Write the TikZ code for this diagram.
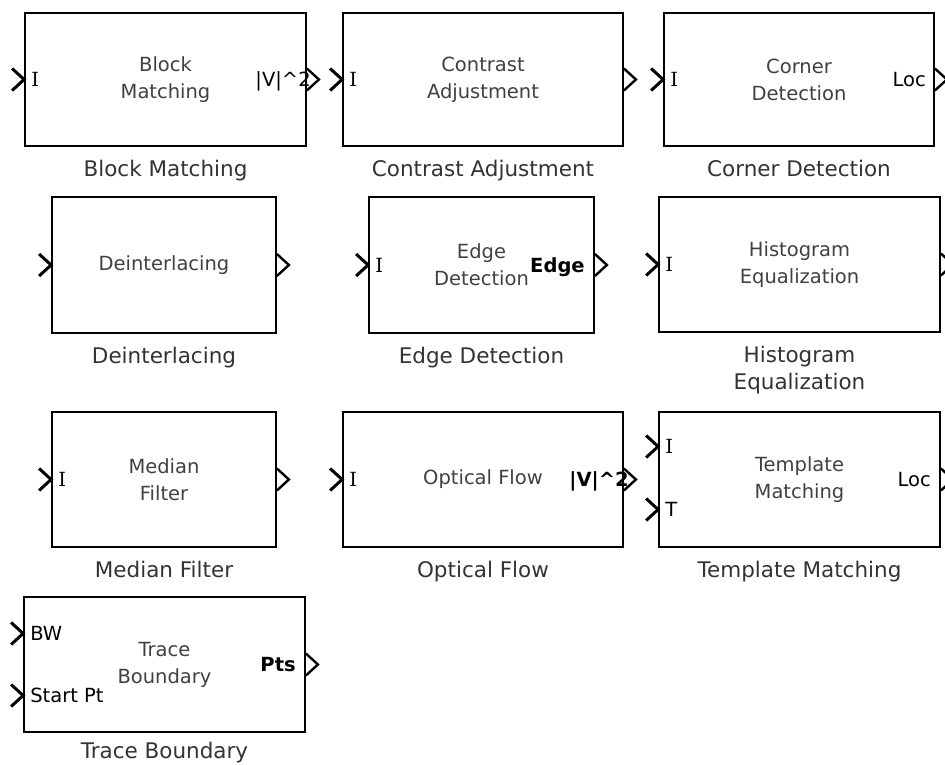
\documentclass[tikz,border=0pt]{standalone}
\usepackage{fontspec}
\setmainfont{DejaVu Sans}
\newfontfamily\serifI{DejaVu Serif}
\usetikzlibrary{calc,positioning}
\tikzset{
  block/.style={draw,line width=1.8pt,align=center,inner sep=0pt,
    font=\fontsize{19.5}{27}\selectfont,text=black!75},
  blockLabel/.style={anchor=north,align=center,inner sep=0pt,
    font=\fontsize{21.5}{27}\selectfont,text=black!80},
  portLabel/.style={inner sep=0pt,text height=14pt,text depth=0pt,
    font=\fontsize{19.5}{23}\selectfont},
  inPort/.pic={\draw[line width=3pt] (-12,-11) -- (0,0) -- (-12,11);},
  outPort/.pic={\draw[line width=2.4pt] (0,-11) -- (12,0) -- (0,11);},
}
\newcommand{\portI}{{\serifI I}}
\newcommand{\vsq}{|V|\textasciicircum 2}

\begin{document}
\begin{tikzpicture}[x=1pt,y=-1pt]
\useasboundingbox (0,0) rectangle (945,765);

% ===== Row 1 =====
\node[block,minimum width=281,minimum height=133] (blockMatch) at (165.5,79.5) {Block\\Matching};
\node[block,minimum width=280,minimum height=133] (contrastAdj) at (483,79.5) {Contrast\\Adjustment};
\node[block,minimum width=270,minimum height=133] (cornerDet) at (799,79.5) {Corner\\Detection};

% ===== Row 2 =====
\node[block,minimum width=224,minimum height=136] (deinterlace) at (164,265) {Deinterlacing};
\node[block,minimum width=225,minimum height=136] (edgeDet) at (481.5,265) {Edge\\Detection};
\node[block,minimum width=281,minimum height=135] (histEq) at (799.5,264.5) {Histogram\\Equalization};

% ===== Row 3 =====
\node[block,minimum width=224,minimum height=135] (medianFilt) at (164,479.5) {Median\\Filter};
\node[block,minimum width=280,minimum height=135] (opticalFlow) at (483,479.5) {Optical Flow};
\node[block,minimum width=281,minimum height=135] (templMatch) at (799.5,479.5) {Template\\Matching};

% ===== Row 4 =====
\node[block,minimum width=281,minimum height=135] (traceBound) at (164.5,664.5) {Trace\\Boundary};

% ===== Block names =====
\foreach \b/\t in {blockMatch/Block Matching,contrastAdj/Contrast Adjustment,
    cornerDet/Corner Detection,deinterlace/Deinterlacing,edgeDet/Edge Detection,
    histEq/{Histogram\\Equalization},medianFilt/Median Filter,opticalFlow/Optical Flow,
    templMatch/Template Matching} {
  \node[blockLabel] (\b Name) at ($(\b.south)+(0,13)$) {\t};
}
\node[blockLabel] (traceBoundName) at ($(traceBound.south)+(0,9)$) {Trace Boundary};

% ===== Ports =====
\foreach \b in {blockMatch,contrastAdj,cornerDet,deinterlace,edgeDet,histEq,medianFilt,opticalFlow} {
  \pic at (\b.west) {inPort};
}
\foreach \b in {blockMatch,contrastAdj,cornerDet,deinterlace,edgeDet,histEq,medianFilt,opticalFlow,templMatch,traceBound} {
  \pic at (\b.east) {outPort};
}
\coordinate (templI) at ($(templMatch.west)+(0,-33)$);
\coordinate (templT) at ($(templMatch.west)+(0,30)$);
\coordinate (traceBW) at ($(traceBound.west)+(0,-31)$);
\coordinate (traceSP) at ($(traceBound.west)+(0,31)$);
\foreach \c in {templI,templT,traceBW,traceSP} {\pic at (\c) {inPort};}

% ===== Port labels =====
\foreach \b in {blockMatch,contrastAdj,cornerDet,edgeDet,histEq,medianFilt,opticalFlow} {
  \node[portLabel,anchor=west] (\b In) at ($(\b.west)+(7,0)$) {\portI};
}
\node[portLabel,anchor=west] (templInI) at ($(templI)+(7,0)$) {\portI};
\node[portLabel,anchor=west] (templInT) at ($(templT)+(7,0)$) {T};
\node[portLabel,anchor=west] (traceInBW) at ($(traceBW)+(7,0)$) {BW};
\node[portLabel,anchor=west] (traceInSP) at ($(traceSP)+(7,0)$) {Start Pt};
\node[portLabel,anchor=east] (blockMatchOut) at ($(blockMatch.east)+(4,0)$) {\vsq};
\node[portLabel,anchor=east] (cornerDetOut) at ($(cornerDet.east)+(-9,0)$) {Loc};
\node[portLabel,anchor=east,font=\fontsize{19.5}{23}\selectfont\bfseries] (edgeDetOut) at ($(edgeDet.east)+(-10,0)$) {Edge};
\node[portLabel,anchor=east,font=\fontsize{19.5}{23}\selectfont\bfseries] (opticalFlowOut) at ($(opticalFlow.east)+(5,0)$) {\vsq};
\node[portLabel,anchor=east] (templMatchOut) at ($(templMatch.east)+(-10,0)$) {Loc};
\node[portLabel,anchor=east,font=\fontsize{19.5}{23}\selectfont\bfseries] (traceBoundOut) at ($(traceBound.east)+(-10,0)$) {Pts};

\end{tikzpicture}
\end{document}
